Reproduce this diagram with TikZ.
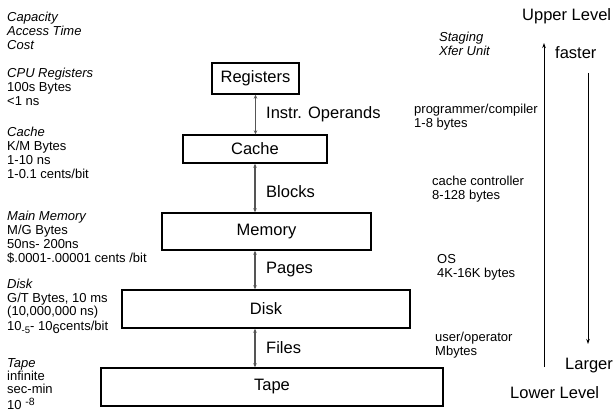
\documentclass[tikz,border=0pt]{standalone}
\usepackage{fontspec}
\setmainfont{Liberation Sans}
\usetikzlibrary{arrows.meta}
\definecolor{arrgray}{HTML}{555555}
\tikzset{
  lvl/.style={draw=black, line width=1.4pt, inner sep=0pt, font=\fontsize{16.5}{18}\selectfont},
  small/.style={inner sep=0pt, anchor=base west, font=\fontsize{13}{14}\selectfont},
  tight/.style={inner sep=0pt, anchor=base west, font=\fontsize{13}{13.2}\selectfont},
  big/.style={inner sep=0pt, anchor=base west, font=\fontsize{16.5}{18}\selectfont},
  link/.style={draw=arrgray, line width=1.2pt, {Stealth[length=4pt,width=3.5pt]}-{Stealth[length=4pt,width=3.5pt]}},
  side/.style={draw=black, line width=0.9pt}
}
\newcommand{\blk}[1]{\begin{tabular}[t]{@{}l@{}}#1\end{tabular}}
\begin{document}
\begin{tikzpicture}[x=1pt,y=-1pt]
\useasboundingbox (0,0) rectangle (615,411);
% level boxes
\node[lvl, minimum width=87pt, minimum height=31pt] (reg) at (255.5,78.5) {Registers};
\node[lvl, minimum width=144pt, minimum height=28pt] (cache) at (255,149) {Cache};
\node[lvl, minimum width=209pt, minimum height=37pt] (mem) at (266.5,231.5) {Memory};
\node[lvl, minimum width=288pt, minimum height=38pt] (disk) at (266,309) {Disk};
\node[lvl, minimum width=342pt, minimum height=38pt] (tape) at (272,387) {Tape};
% links
\draw[link] (reg.south) -- (reg.south |- cache.north);
\draw[link] (cache.south) -- (cache.south |- mem.north);
\draw[link] (cache.south |- mem.south) -- (cache.south |- disk.north);
\draw[link] (cache.south |- disk.south) -- (cache.south |- tape.north);
\node[big] (l1) at (266,119) {Instr. Operands};
\node[big] (l2) at (266,198) {Blocks};
\node[big] (l3) at (266,274) {Pages};
\node[big] (l4) at (266,353) {Files};
% left column
\node[small] (c0) at (7,22) {\blk{\itshape Capacity\\ \itshape Access Time\\ \itshape Cost}};
\node[small] (c1) at (7,78) {\blk{\itshape CPU Registers\\ 100s Bytes\\ <1 ns}};
\node[small] (c2) at (7,137) {\blk{\itshape Cache\\ K/M Bytes\\ 1-10 ns\\ 1-0.1 cents/bit}};
\node[small] (c3) at (7,221) {\blk{\itshape Main Memory\\ M/G Bytes\\ 50ns- 200ns\\ \$.0001-.00001 cents /bit}};
\node[small] (c4) at (7,288) {\blk{\itshape Disk\\ G/T Bytes, 10 ms\\ (10,000,000 ns)\\ 10\raisebox{-3pt}{\fontsize{9.5}{10}\selectfont -5}- 10\raisebox{-3pt}{\fontsize{13}{14}\selectfont 6}cents/bit}};
\node[tight] (c5) at (7,367) {\blk{\itshape Tape\\ infinite\\ sec-min\\ 10 \raisebox{4pt}{\fontsize{10.5}{11}\selectfont -8}}};
% right column
\node[small] (r0) at (439,42) {\blk{\itshape Staging\\ \itshape Xfer Unit}};
\node[small] (r1) at (414,114) {\blk{programmer/compiler\\ 1-8 bytes}};
\node[small] (r2) at (432,186) {\blk{cache controller\\ 8-128 bytes}};
\node[small] (r3) at (437,264) {\blk{OS\\ 4K-16K bytes}};
\node[small] (r4) at (435,341) {\blk{user/operator\\ Mbytes}};
% side arrows
\coordinate (ua) at (544,367);
\coordinate (ub) at (544,43);
\coordinate (da) at (588,73);
\coordinate (db) at (588,344);
\draw[side, -{Stealth[length=5pt,width=3.5pt]}] (ua) -- (ub);
\draw[side, -{Stealth[length=5pt,width=3.5pt]}] (da) -- (db);
\node[big] (up) at (522,21) {Upper Level};
\node[big] (fa) at (555,59) {faster};
\node[big] (la) at (565,369) {Larger};
\node[big] (lo) at (510,398) {Lower Level};
\end{tikzpicture}
\end{document}
